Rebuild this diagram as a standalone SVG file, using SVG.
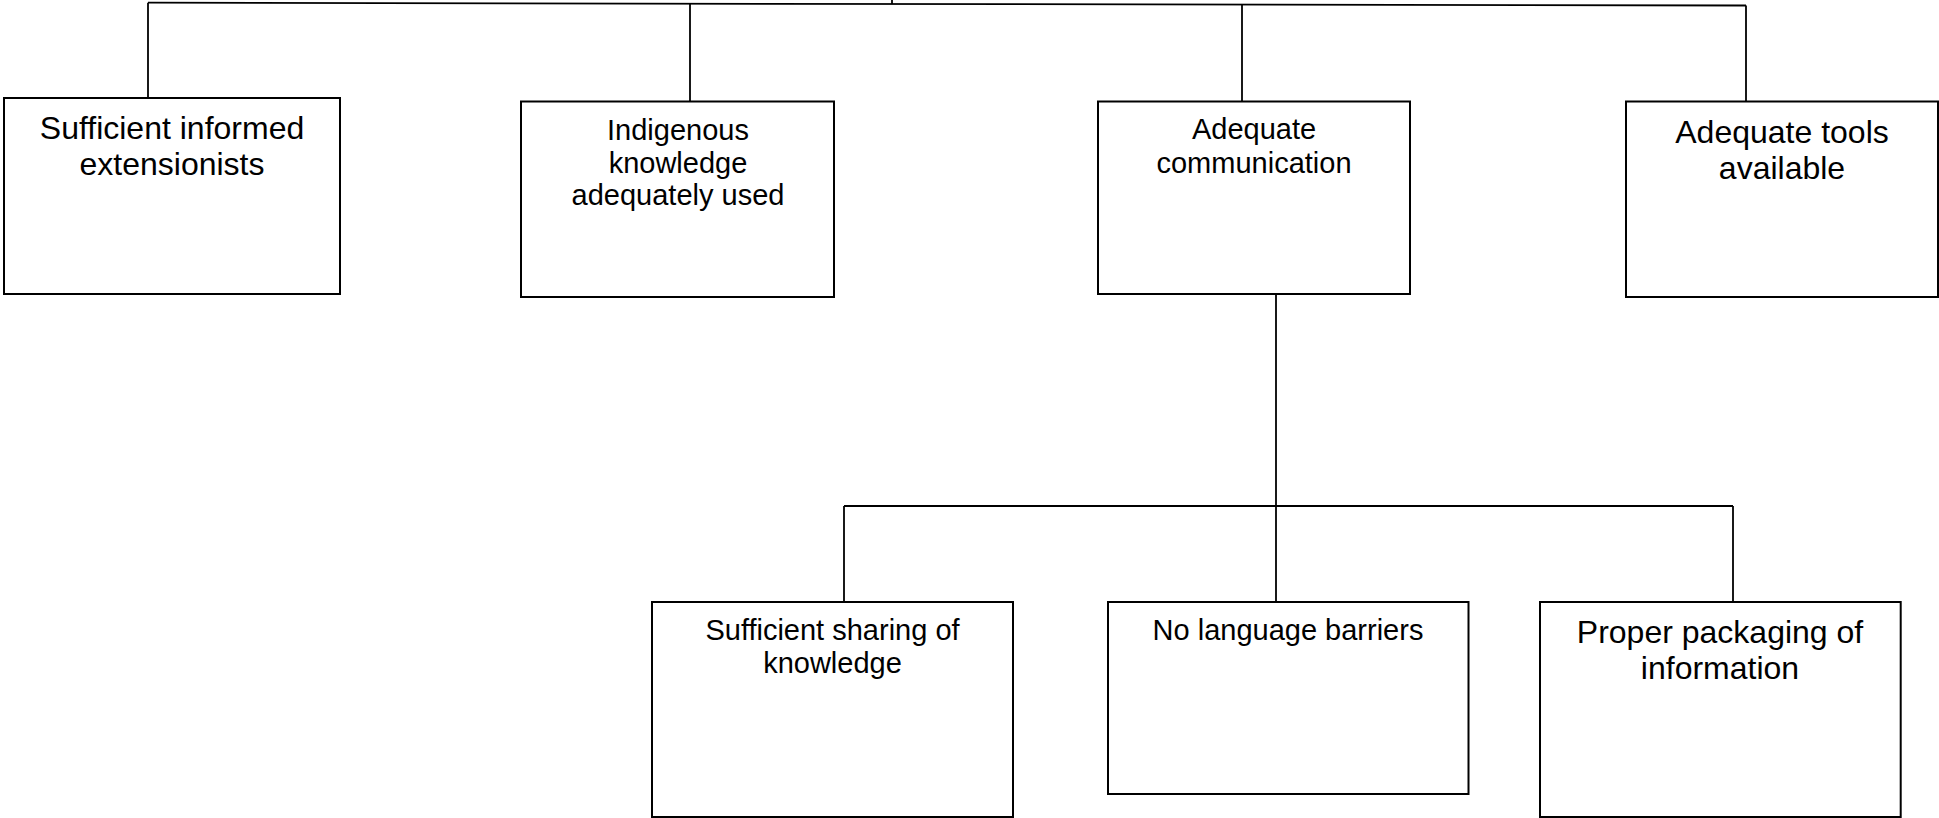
<svg xmlns="http://www.w3.org/2000/svg" width="1939" height="818" viewBox="0 0 1939 818">
  <style>
    .box { fill: #ffffff; stroke: #000000; stroke-width: 2; }
    .wire { fill: none; stroke: #000000; stroke-width: 1.8; }
    text { font-family: "Liberation Sans", Arial, sans-serif; fill: #000000; text-anchor: middle; }
    .lg { font-size: 32px; }
    .sm { font-size: 29px; }
  </style>
  <rect x="0" y="0" width="1939" height="818" fill="#ffffff"/>

  <!-- connectors -->
  <g id="connectors">
    <line class="wire" x1="892" y1="0" x2="892" y2="4"/>
    <line class="wire" x1="148" y1="2.7" x2="1746" y2="5.5"/>
    <line class="wire" x1="148" y1="2.7" x2="148" y2="98"/>
    <line class="wire" x1="690" y1="3.6" x2="690" y2="101.5"/>
    <line class="wire" x1="1242" y1="4.6" x2="1242" y2="101.5"/>
    <line class="wire" x1="1746" y1="5.5" x2="1746" y2="101.5"/>
    <line class="wire" x1="1276" y1="289" x2="1276" y2="602"/>
    <line class="wire" x1="844" y1="506" x2="1733" y2="506"/>
    <line class="wire" x1="844" y1="506" x2="844" y2="602"/>
    <line class="wire" x1="1733" y1="506" x2="1733" y2="602"/>
  </g>

  <g id="node-informed-extensionists">
    <rect class="box" x="4" y="98" width="336" height="196"/>
    <text class="lg" x="172" y="139">Sufficient informed</text>
    <text class="lg" x="172" y="175">extensionists</text>
  </g>

  <g id="node-indigenous-knowledge">
    <rect class="box" x="521" y="101.5" width="313" height="195.5"/>
    <text class="sm" x="678" y="140">Indigenous</text>
    <text class="sm" x="678" y="172.5">knowledge</text>
    <text class="sm" x="678" y="204.5">adequately used</text>
  </g>

  <g id="node-adequate-communication">
    <rect class="box" x="1098" y="101.5" width="312" height="192.5"/>
    <text class="sm" x="1254" y="139">Adequate</text>
    <text class="sm" x="1254" y="172.5">communication</text>
  </g>

  <g id="node-adequate-tools">
    <rect class="box" x="1626" y="101.5" width="312" height="195.5"/>
    <text class="lg" x="1782" y="143">Adequate tools</text>
    <text class="lg" x="1782" y="178.5">available</text>
  </g>

  <g id="node-knowledge-sharing">
    <rect class="box" x="652" y="602" width="361" height="215"/>
    <text class="sm" x="832.5" y="639.5">Sufficient sharing of</text>
    <text class="sm" x="832.5" y="672.5">knowledge</text>
  </g>

  <g id="node-language-barriers">
    <rect class="box" x="1108" y="602" width="360.5" height="192"/>
    <text class="sm" x="1288" y="639.5">No language barriers</text>
  </g>

  <g id="node-information-packaging">
    <rect class="box" x="1540" y="602" width="360.7" height="215"/>
    <text class="lg" x="1720" y="643">Proper packaging of</text>
    <text class="lg" x="1720" y="679">information</text>
  </g>
</svg>
